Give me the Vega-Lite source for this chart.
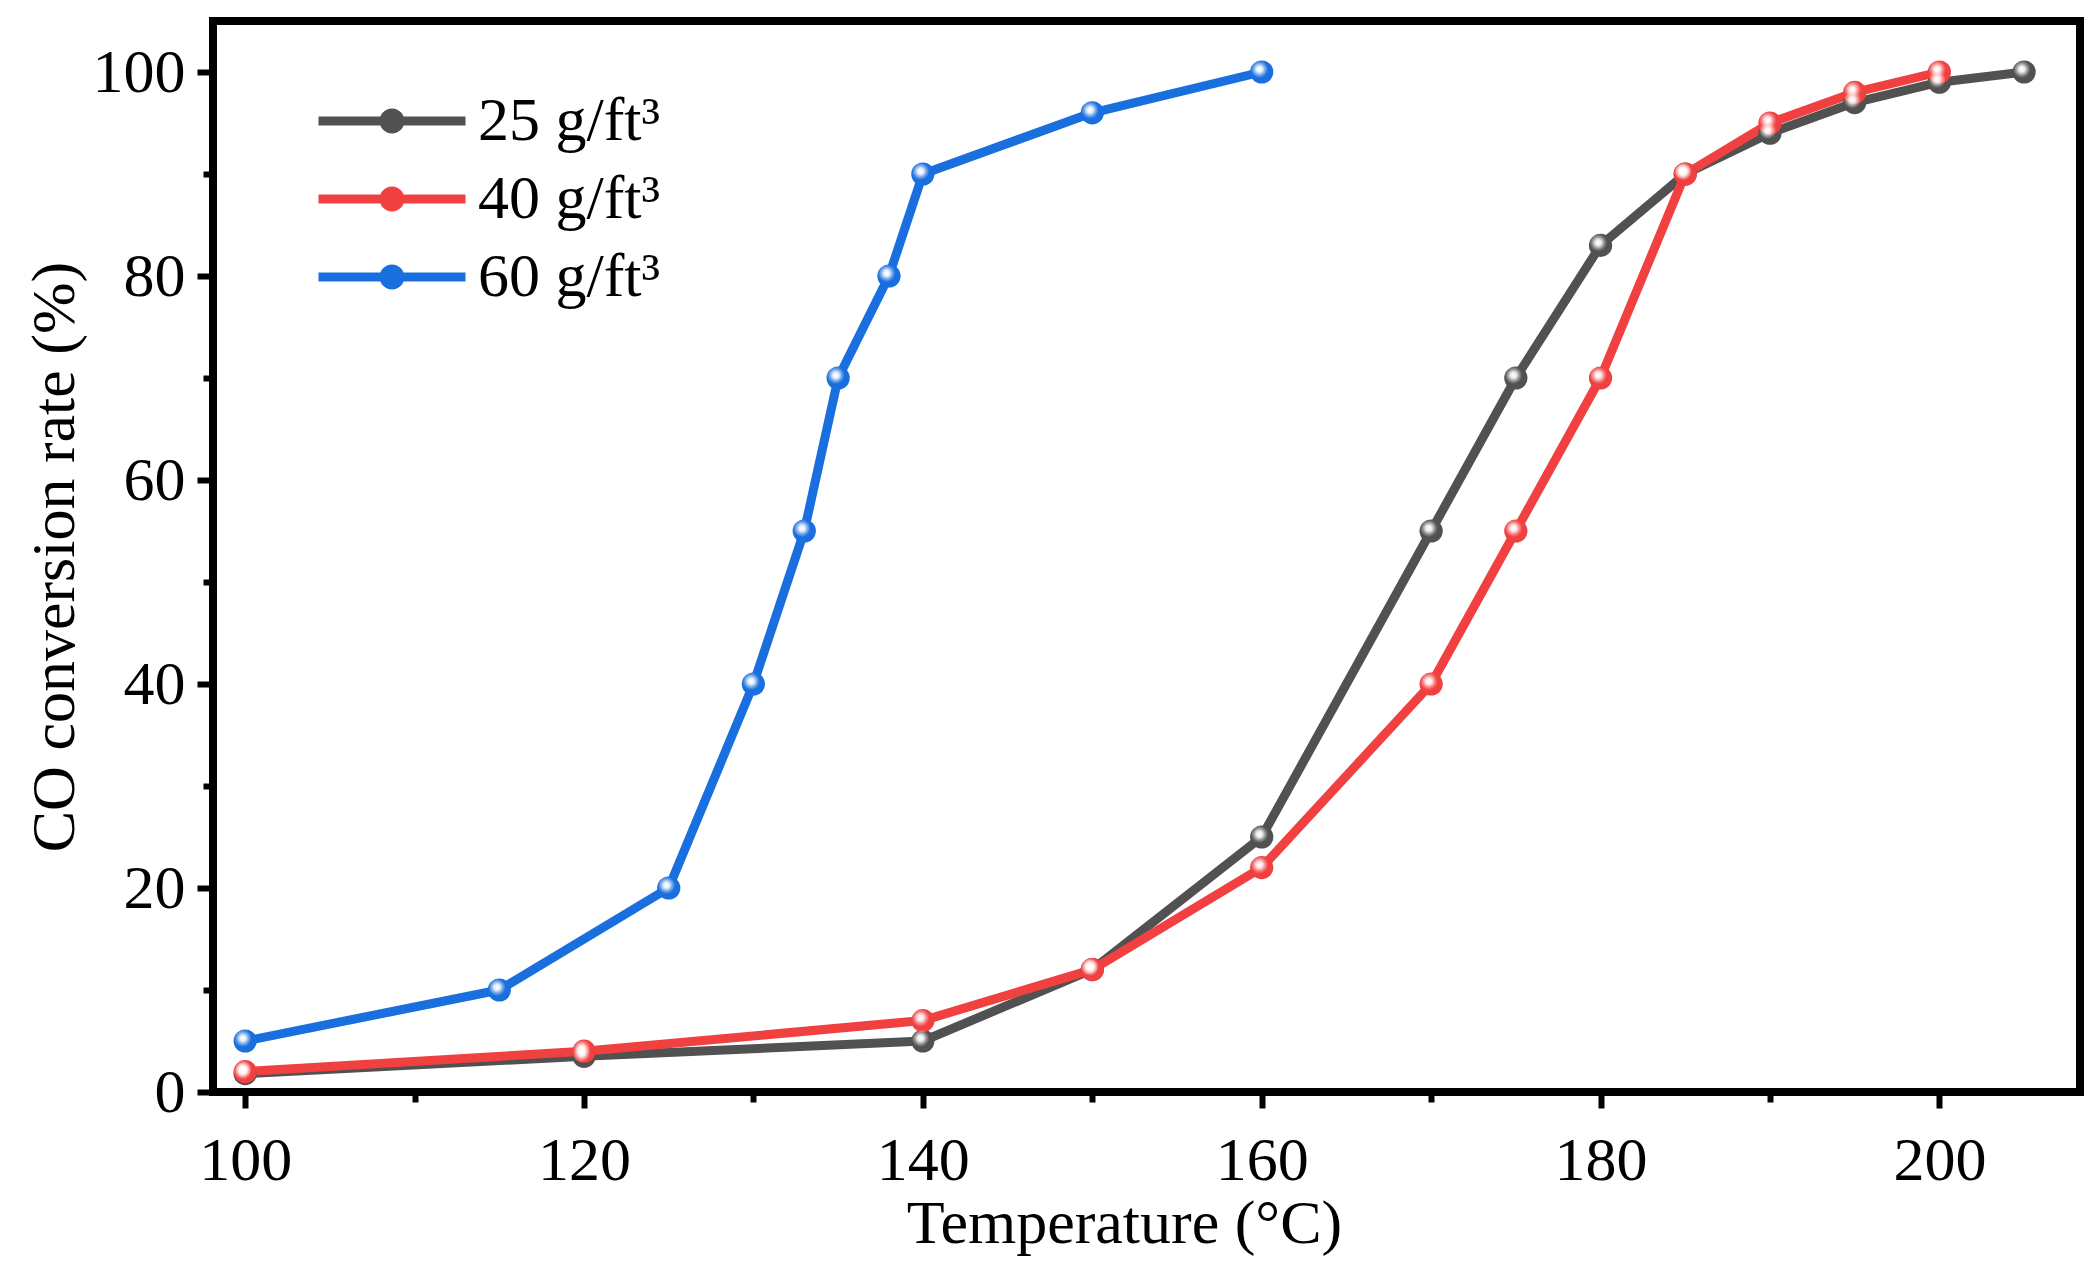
{
  "$schema": "https://vega.github.io/schema/vega-lite/v6.json",
  "width": 1867,
  "height": 1071,
  "autosize": {"type": "none"},
  "padding": {"left": 213, "top": 21, "right": 20, "bottom": 190},
  "background": "white",
  "config": {
    "view": {"stroke": "black", "strokeWidth": 8},
    "font": "Liberation Serif",
    "axis": {
      "domain": false,
      "grid": false,
      "labelFont": "Liberation Serif",
      "labelFontSize": 62,
      "labelColor": "black",
      "titleFont": "Liberation Serif",
      "titleFontSize": 62,
      "titleFontWeight": "normal",
      "titleColor": "black",
      "tickColor": "black",
      "tickWidth": 6,
      "labelOverlap": false,
      "labelBound": false,
      "labelFlush": false
    }
  },
  "data": {
    "values": [
      {"temp": 100, "rate": 1.8, "loading": "25 g/ft³"},
      {"temp": 120, "rate": 3.5, "loading": "25 g/ft³"},
      {"temp": 140, "rate": 5, "loading": "25 g/ft³"},
      {"temp": 150, "rate": 12, "loading": "25 g/ft³"},
      {"temp": 160, "rate": 25, "loading": "25 g/ft³"},
      {"temp": 170, "rate": 55, "loading": "25 g/ft³"},
      {"temp": 175, "rate": 70, "loading": "25 g/ft³"},
      {"temp": 180, "rate": 83, "loading": "25 g/ft³"},
      {"temp": 185, "rate": 90, "loading": "25 g/ft³"},
      {"temp": 190, "rate": 94, "loading": "25 g/ft³"},
      {"temp": 195, "rate": 97, "loading": "25 g/ft³"},
      {"temp": 200, "rate": 99, "loading": "25 g/ft³"},
      {"temp": 205, "rate": 100, "loading": "25 g/ft³"},
      {"temp": 100, "rate": 2, "loading": "40 g/ft³"},
      {"temp": 120, "rate": 4, "loading": "40 g/ft³"},
      {"temp": 140, "rate": 7, "loading": "40 g/ft³"},
      {"temp": 150, "rate": 12, "loading": "40 g/ft³"},
      {"temp": 160, "rate": 22, "loading": "40 g/ft³"},
      {"temp": 170, "rate": 40, "loading": "40 g/ft³"},
      {"temp": 175, "rate": 55, "loading": "40 g/ft³"},
      {"temp": 180, "rate": 70, "loading": "40 g/ft³"},
      {"temp": 185, "rate": 90, "loading": "40 g/ft³"},
      {"temp": 190, "rate": 95, "loading": "40 g/ft³"},
      {"temp": 195, "rate": 98, "loading": "40 g/ft³"},
      {"temp": 200, "rate": 100, "loading": "40 g/ft³"},
      {"temp": 100, "rate": 5, "loading": "60 g/ft³"},
      {"temp": 115, "rate": 10, "loading": "60 g/ft³"},
      {"temp": 125, "rate": 20, "loading": "60 g/ft³"},
      {"temp": 130, "rate": 40, "loading": "60 g/ft³"},
      {"temp": 133, "rate": 55, "loading": "60 g/ft³"},
      {"temp": 135, "rate": 70, "loading": "60 g/ft³"},
      {"temp": 138, "rate": 80, "loading": "60 g/ft³"},
      {"temp": 140, "rate": 90, "loading": "60 g/ft³"},
      {"temp": 150, "rate": 96, "loading": "60 g/ft³"},
      {"temp": 160, "rate": 100, "loading": "60 g/ft³"}
    ]
  },
  "encoding": {
    "x": {
      "field": "temp",
      "type": "quantitative",
      "scale": {"domain": [98.1, 208.3], "nice": false, "zero": false},
      "axis": {
        "title": "Temperature (°C)",
        "titleX": 911,
        "values": [100, 110, 120, 130, 140, 150, 160, 170, 180, 190, 200],
        "labelExpr": "datum.value % 20 === 0 ? datum.label : ''",
        "tickSize": {"condition": {"test": "datum.value % 20 === 0", "value": 16}, "value": 10},
        "labelPadding": 22,
        "titlePadding": 2
      }
    },
    "y": {
      "field": "rate",
      "type": "quantitative",
      "scale": {"domain": [0, 105], "nice": false},
      "axis": {
        "title": "CO conversion rate (%)",
        "values": [0, 10, 20, 30, 40, 50, 60, 70, 80, 90, 100],
        "labelExpr": "datum.value % 20 === 0 ? datum.label : ''",
        "tickSize": {"condition": {"test": "datum.value % 20 === 0", "value": 16}, "value": 10},
        "labelPadding": 12,
        "titlePadding": 6
      }
    },
    "color": {
      "field": "loading",
      "type": "nominal",
      "scale": {
        "domain": ["25 g/ft³", "40 g/ft³", "60 g/ft³"],
        "range": ["#515151", "#F14040", "#1A6FDF"]
      },
      "legend": {
        "title": null,
        "orient": "none",
        "legendX": 148,
        "legendY": 69,
        "symbolType": "M-5.88,-0.36L5.88,-0.36L5.88,0.36L-5.88,0.36Z M-1,0A1,1 0 1,1 1,0A1,1 0 1,1 -1,0Z",
        "symbolSize": 625,
        "symbolStrokeWidth": 0,
        "labelFont": "Liberation Serif",
        "labelFontSize": 62,
        "labelColor": "black",
        "labelLimit": 0,
        "labelOffset": 55,
        "rowPadding": 16,
        "encode": {
          "symbols": {
            "update": {
              "fill": {"scale": "color", "field": "value"},
              "stroke": {"value": "transparent"},
              "opacity": {"value": 1}
            }
          }
        }
      }
    }
  },
  "layer": [
    {"mark": {"type": "line", "strokeWidth": 9, "strokeJoin": "round", "strokeCap": "round"}},
    {"mark": {"type": "point", "filled": true, "size": 540, "opacity": 1, "strokeWidth": 0}},
    {
      "mark": {
        "type": "point",
        "filled": true,
        "size": 540,
        "opacity": 1,
        "strokeWidth": 0,
        "fill": {
          "gradient": "radial",
          "x1": 0.4, "y1": 0.38, "r1": 0,
          "x2": 0.4, "y2": 0.38, "r2": 0.5,
          "stops": [
            {"offset": 0, "color": "rgba(255,255,255,1)"},
            {"offset": 0.25, "color": "rgba(255,255,255,0.9)"},
            {"offset": 0.5, "color": "rgba(255,255,255,0.4)"},
            {"offset": 0.75, "color": "rgba(255,255,255,0)"}
          ]
        }
      },
      "encoding": {"color": {"value": null}}
    }
  ]
}
